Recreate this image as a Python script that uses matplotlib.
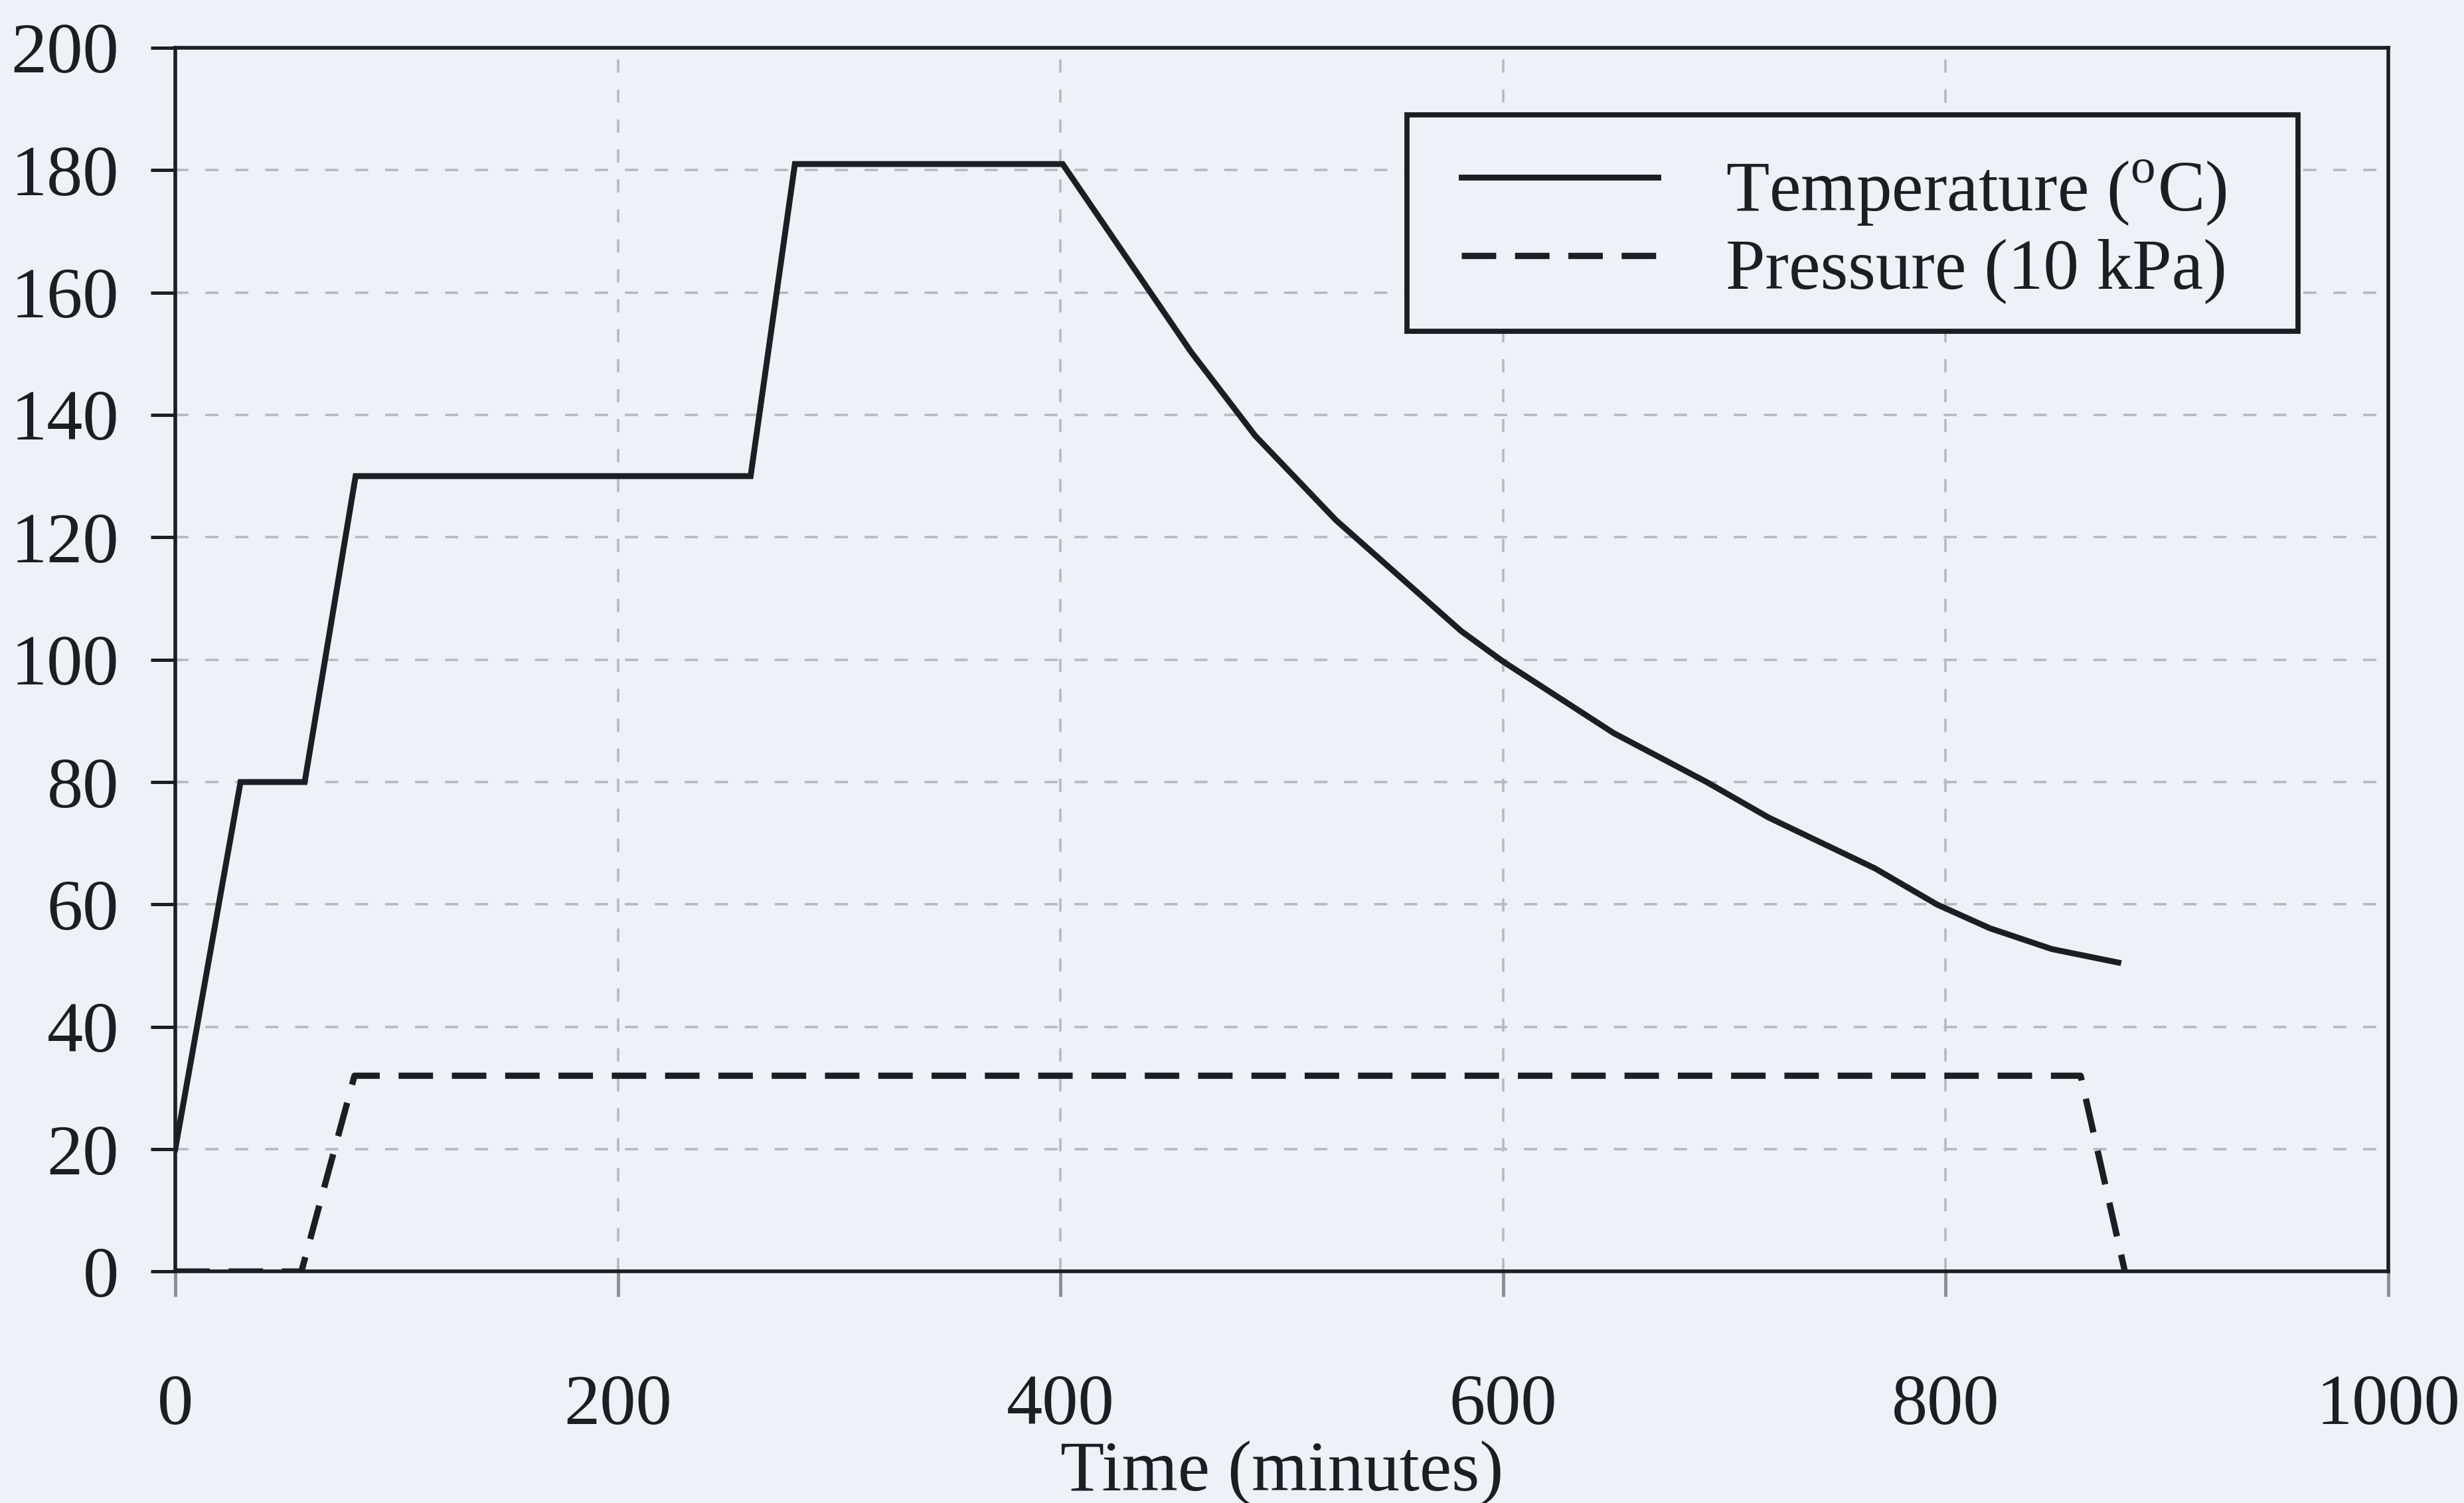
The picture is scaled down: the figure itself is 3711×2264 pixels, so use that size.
import matplotlib
matplotlib.use("Agg")
import matplotlib.pyplot as plt
from matplotlib.legend_handler import HandlerLine2D

# temperature profile (deg C)
temp_t = [0, 29.5, 58.5, 81.5, 260, 280, 401, 459, 488, 524.5, 581, 600,
          650, 692, 720, 768, 796, 820, 848, 878]
temp_v = [20, 80, 80, 130, 130, 181, 181, 150.3, 136.6, 122.8, 104.7, 99.7,
          88, 80, 74.2, 65.9, 60, 56.1, 52.7, 50.5]

# pressure profile (units of 10 kPa)
pres_t = [0, 57, 81, 861, 881]
pres_v = [0, 0, 32, 32, 0]

x_ticks = [0, 200, 400, 600, 800, 1000]
y_ticks = [0, 20, 40, 60, 80, 100, 120, 140, 160, 180, 200]

bg = "#edf2f8"
ink = "#1c1f22"
fs = 39
leg_fs = 38.5

plt.rcParams["font.family"] = ["Liberation Serif", "DejaVu Serif"]
plt.rcParams["mathtext.fontset"] = "custom"
plt.rcParams["mathtext.rm"] = "Liberation Serif"

fig = plt.figure(figsize=(18.56, 11.32), dpi=200, facecolor=bg)
ax = fig.add_axes([0.0711, 0.154, 0.969 - 0.0711, 0.9682 - 0.154])
ax.set_facecolor(bg)

# trailing en space gives the legend a little extra room on the right
ax.plot(temp_t, temp_v, color=ink, lw=3.2, solid_joinstyle="miter",
        label="Temperature ($^{\\mathrm{o}}$C)\u2002", zorder=3)
ax.plot(pres_t, pres_v, color=ink, lw=3.4, linestyle=(0, (5.5, 3)),
        label="Pressure (10 kPa)\u2002", zorder=3)

ax.set_xlim(0, 1000)
ax.set_ylim(0, 200)
ax.set_xticks(x_ticks)
ax.set_yticks(y_ticks)
ax.set_xticklabels([str(v) for v in x_ticks])
ax.set_yticklabels([str(v) for v in y_ticks])

ax.grid(True, color="#b3bac2", lw=1.3, linestyle=(0, (5.5, 7)), zorder=1)

for s in ax.spines.values():
    s.set_linewidth(2.0)
    s.set_color(ink)

ax.tick_params(axis="both", direction="out", length=13.5, width=1.8,
               colors=ink, labelsize=fs)
ax.tick_params(axis="x", pad=42, color="#8a9097")
ax.tick_params(axis="y", pad=17)

ax.set_xlabel("Time (minutes)", fontsize=fs, color=ink)
ax.xaxis.set_label_coords(0.5, -0.138)

leg = ax.legend(loc="upper right", bbox_to_anchor=(0.9592, 0.9452),
                borderaxespad=0, fontsize=leg_fs, handlelength=3.04,
                handletextpad=0.95, borderpad=0.5, labelspacing=0.17,
                fancybox=False, framealpha=1, facecolor=bg, edgecolor=ink,
                handler_map={plt.Line2D: HandlerLine2D(xpad=0.27)})
leg.get_frame().set_linewidth(2.8)
for t in leg.get_texts():
    t.set_color(ink)
    t.set_y(-12)  # labels sit a bit below their handles in the original

fig.savefig("out.png", dpi=200, facecolor=bg)
